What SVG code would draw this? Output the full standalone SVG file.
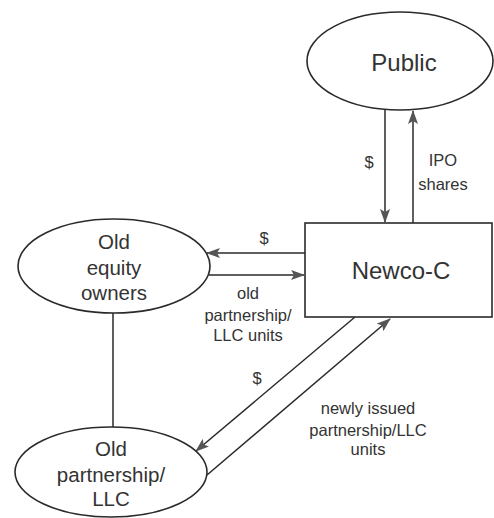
<svg xmlns="http://www.w3.org/2000/svg" width="494" height="518" viewBox="0 0 494 518">
<style>
.shape{fill:#fff;stroke:#2a2a2a;stroke-width:1.6}
.conn{stroke:#2a2a2a;stroke-width:1.5;fill:none}
.big{font-family:"Liberation Sans",Arial,sans-serif;font-size:20.5px;fill:#333;text-anchor:middle}
.lbl{font-family:"Liberation Sans",Arial,sans-serif;font-size:16.5px;fill:#333;text-anchor:middle}
</style>
<defs>
<marker id="ah" markerWidth="14" markerHeight="10" refX="13" refY="5" orient="auto" markerUnits="userSpaceOnUse">
<path d="M0,0 L14,5 L0,10 L3,5 Z" fill="#555"/>
</marker>
</defs>
<rect width="494" height="518" fill="#fff"/>
<g id="connectors">
<line class="conn" x1="385" y1="110" x2="385" y2="222" marker-end="url(#ah)"/>
<line class="conn" x1="413" y1="223" x2="413" y2="111" marker-end="url(#ah)"/>
<line class="conn" x1="305" y1="253" x2="207" y2="253" marker-end="url(#ah)"/>
<line class="conn" x1="209" y1="275" x2="304" y2="275" marker-end="url(#ah)"/>
<line class="conn" x1="113" y1="313" x2="113" y2="427"/>
<line class="conn" x1="355" y1="317" x2="196" y2="451" marker-end="url(#ah)"/>
<line class="conn" x1="207" y1="475" x2="390" y2="319" marker-end="url(#ah)"/>
<text class="lbl" x="369" y="168">$</text>
<text class="lbl" x="443" y="166">IPO</text>
<text class="lbl" x="443" y="190">shares</text>
<text class="lbl" x="264" y="244">$</text>
<text class="lbl" x="248" y="299">old</text>
<text class="lbl" x="248" y="321">partnership/</text>
<text class="lbl" x="248" y="341">LLC units</text>
<text class="lbl" x="257" y="384">$</text>
<text class="lbl" x="368" y="414">newly issued</text>
<text class="lbl" x="368" y="436">partnership/LLC</text>
<text class="lbl" x="368" y="455">units</text>
</g>
<g id="public">
<ellipse class="shape" cx="400" cy="61" rx="93" ry="49"/>
<text class="big" x="404" y="71" style="font-size:24px">Public</text>
</g>
<g id="newco">
<rect class="shape" x="305" y="223" width="187" height="94"/>
<text class="big" x="401" y="279" style="font-size:24px">Newco-C</text>
</g>
<g id="old-equity-owners">
<ellipse class="shape" cx="114" cy="266" rx="96" ry="47"/>
<text class="big" x="114" y="249">Old</text>
<text class="big" x="114" y="275">equity</text>
<text class="big" x="114" y="300">owners</text>
</g>
<g id="old-partnership">
<ellipse class="shape" cx="111" cy="472" rx="96" ry="45"/>
<text class="big" x="111" y="456">Old</text>
<text class="big" x="111" y="482">partnership/</text>
<text class="big" x="111" y="506">LLC</text>
</g>
</svg>
